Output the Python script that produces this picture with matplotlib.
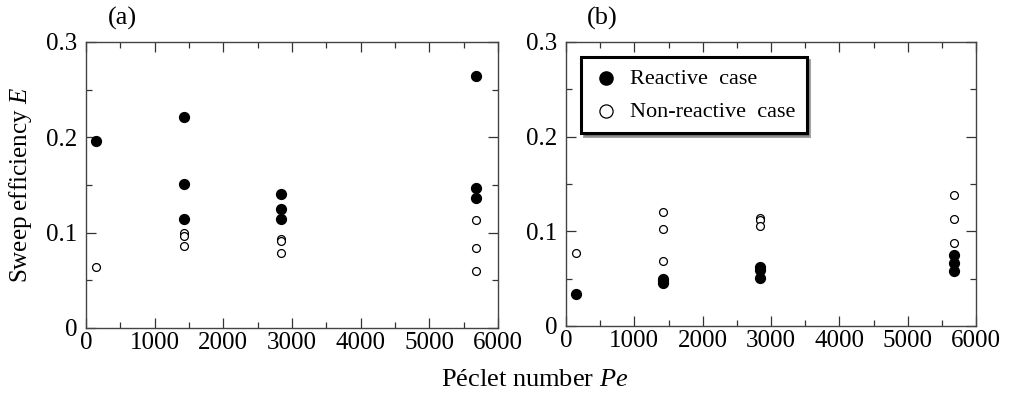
import matplotlib.pyplot as plt
from matplotlib.ticker import MultipleLocator

plt.rcParams['font.family'] = ['Liberation Serif', 'DejaVu Serif']
plt.rcParams['mathtext.fontset'] = 'custom'
plt.rcParams['mathtext.it'] = 'Liberation Serif:italic'
plt.rcParams['mathtext.rm'] = 'Liberation Serif'

# panel (a)
pe_a_react = [140, 1420, 1420, 1420, 2840, 2840, 2840, 5680, 5680, 5680]
e_a_react = [0.196, 0.221, 0.151, 0.114, 0.141, 0.125, 0.114, 0.264, 0.147, 0.136]
pe_a_non = [140, 1420, 1420, 1420, 2840, 2840, 2840, 5680, 5680, 5680]
e_a_non = [0.0635, 0.100, 0.0964, 0.086, 0.0936, 0.091, 0.079, 0.1135, 0.084, 0.060]

# panel (b)
pe_b_react = [140, 1420, 1420, 1420, 2840, 2840, 2840, 5680, 5680, 5680]
e_b_react = [0.0343, 0.050, 0.0478, 0.0456, 0.062, 0.059, 0.051, 0.075, 0.067, 0.058]
pe_b_non = [140, 1420, 1420, 1420, 2840, 2840, 2840, 5680, 5680, 5680]
e_b_non = [0.077, 0.120, 0.102, 0.069, 0.1146, 0.112, 0.106, 0.138, 0.113, 0.088]

fig = plt.figure(figsize=(10.09, 3.97), dpi=100)
W, H = 1009, 397
ax1 = fig.add_axes([86 / W, 1 - 328 / H, 412 / W, 286 / H])
ax2 = fig.add_axes([566 / W, 1 - 326 / H, 410 / W, 284 / H])


def style(ax):
    ax.set_xlim(0, 6000)
    ax.set_ylim(0, 0.3)
    ax.xaxis.set_major_locator(MultipleLocator(1000))
    ax.xaxis.set_minor_locator(MultipleLocator(500))
    ax.yaxis.set_major_locator(MultipleLocator(0.1))
    ax.yaxis.set_minor_locator(MultipleLocator(0.05))
    ax.tick_params(which='both', direction='in', top=True, right=True,
                   labelsize=18, colors='#333333', labelcolor='black')
    ax.tick_params(axis='x', which='major', pad=3)
    ax.tick_params(axis='y', which='major', pad=6)
    ax.tick_params(which='major', length=7, width=0.9)
    ax.tick_params(which='minor', length=4, width=0.9)
    ax.set_yticks([0, 0.1, 0.2, 0.3])
    ax.set_yticklabels(['0', '0.1', '0.2', '0.3'])
    for s in ax.spines.values():
        s.set_color('#444444')
        s.set_linewidth(1.0)


style(ax1)
style(ax2)

ax1.scatter(pe_a_react, e_a_react, s=50, color='black', zorder=3)
ax1.scatter(pe_a_non, e_a_non, s=32, facecolor='white', edgecolor='black', linewidth=0.9, zorder=3)

ax2.scatter(pe_b_react, e_b_react, s=50, color='black', zorder=3, label='Reactive  case')
ax2.scatter(pe_b_non, e_b_non, s=32, facecolor='white', edgecolor='black', linewidth=0.9, zorder=3,
            label='Non-reactive  case')

leg = ax2.legend(loc='upper left', bbox_to_anchor=(0.01, 0.985), fontsize=16, frameon=True,
                 fancybox=False, shadow=True, edgecolor='black', borderpad=0.5,
                 handletextpad=0.5, labelspacing=0.55, handlelength=1.2)
leg.get_frame().set_linewidth(2.2)
for h in leg.legend_handles:
    h.set_sizes([90])

ax1.set_ylabel('Sweep efficiency $\\it{E}$', fontsize=18, labelpad=9)
fig.text(535 / W, 1 - 380 / H, 'Péclet number $\\it{Pe}$', fontsize=19, ha='center', va='center')
fig.text(122 / W, 1 - 18 / H, '(a)', fontsize=19, ha='center', va='center')
fig.text(602 / W, 1 - 18 / H, '(b)', fontsize=19, ha='center', va='center')

fig.savefig('out.png', dpi=100)
